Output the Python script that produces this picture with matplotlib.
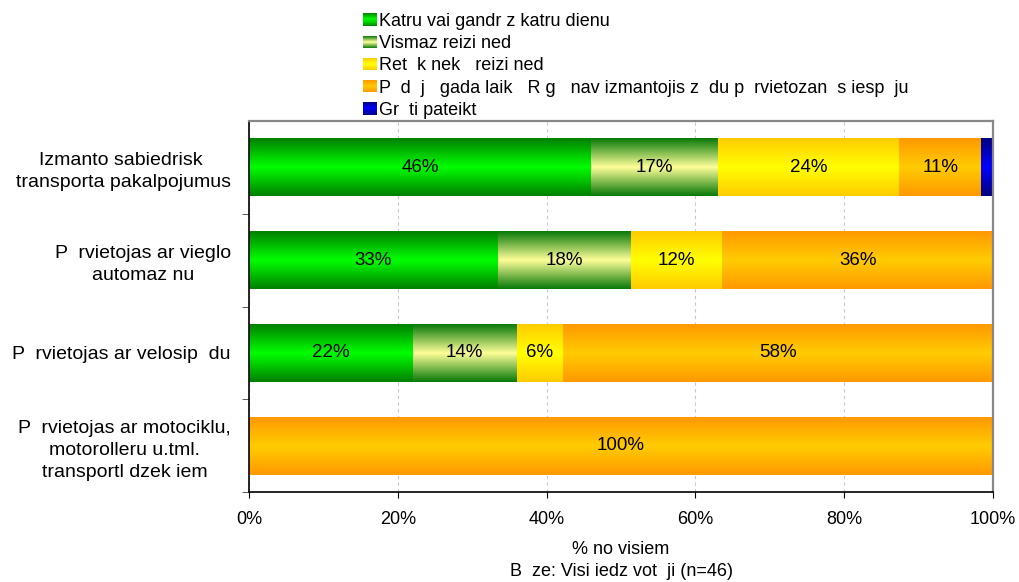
import numpy as np
import matplotlib.pyplot as plt
from matplotlib.colors import LinearSegmentedColormap
from matplotlib.legend_handler import HandlerBase
from matplotlib.patches import Rectangle

categories = [
    "Izmanto sabiedrisk \ntransporta pakalpojumus",
    "P  rvietojas ar vieglo\nautomaz nu",
    "P  rvietojas ar velosip  du",
    "P  rvietojas ar motociklu,\nmotorolleru u.tml.\ntransportl dzek iem",
]
series_names = [
    "Katru vai gandr z katru dienu",
    "Vismaz reizi ned",
    "Ret  k nek   reizi ned",
    "P  d  j   gada laik   R g   nav izmantojis z  du p  rvietozan  s iesp  ju",
    "Gr  ti pateikt",
]
daily = [46.0, 33.4, 22.0, 0.0]
weekly = [17.0, 17.9, 14.0, 0.0]
rarely = [24.4, 12.3, 6.2, 0.0]
not_used = [11.0, 36.4, 57.8, 100.0]
hard_to_say = [1.6, 0.0, 0.0, 0.0]
xtick_vals = [0, 20, 40, 60, 80, 100]
xlabel = "% no visiem\nB  ze: Visi iedz vot  ji (n=46)"

# edge colour / centre colour of each vertical gradient
grad_colors = [
    ("#008000", "#00ff00"),
    ("#0a7a0a", "#ffff99"),
    ("#ffcc00", "#ffff00"),
    ("#ff9900", "#ffcc00"),
    ("#000080", "#0000ff"),
]
cmaps = [LinearSegmentedColormap.from_list("g%d" % i, [e, c, e])
         for i, (e, c) in enumerate(grad_colors)]


class GradientHandler(HandlerBase):
    def __init__(self, cmap):
        super().__init__()
        self.cmap = cmap

    def create_artists(self, legend, orig_handle, xdescent, ydescent,
                       width, height, fontsize, trans):
        n = 12
        arts = []
        for i in range(n):
            r = Rectangle((-xdescent, -ydescent + height * i / n), width, height / n,
                          facecolor=self.cmap((i + 0.5) / n), edgecolor="none",
                          transform=trans)
            arts.append(r)
        return arts


plt.rcParams["font.family"] = ["Liberation Sans", "DejaVu Sans"]
narrow = ["Liberation Sans Narrow", "Liberation Sans", "DejaVu Sans"]

fig = plt.figure(figsize=(10.19, 5.82), dpi=100)
ax = fig.add_axes([0.2444, 0.1546, 0.7301, 0.6375])

data = [daily, weekly, rarely, not_used, hard_to_say]
bar_h = 0.625
grad = np.linspace(0, 1, 64).reshape(-1, 1)
y = np.arange(len(categories))
left = np.zeros(len(categories))
for s, vals in enumerate(data):
    for i, v in enumerate(vals):
        if v <= 0:
            continue
        ax.imshow(grad, cmap=cmaps[s], aspect="auto", interpolation="bilinear",
                  extent=(left[i], left[i] + v, y[i] + bar_h / 2, y[i] - bar_h / 2),
                  zorder=2)
        if v >= 3:
            ax.text(left[i] + v / 2, y[i], "%d%%" % round(v), ha="center", va="center",
                    fontsize=13.5, family=narrow, zorder=3)
    left = left + np.array(vals)

ax.set_xlim(0, 100)
ax.set_ylim(len(categories) - 0.5, -0.5)

ax.set_yticks(y)
ax.set_yticklabels(categories, fontsize=14)
for t in ax.get_yticklabels():
    t.set_multialignment("center")
    t.set_linespacing(1.38)
ax.set_yticks(np.arange(0.5, len(categories)), minor=True)
ax.tick_params(axis="y", which="major", length=0, pad=13)
ax.tick_params(axis="y", which="minor", length=5, direction="out", color="#404040")

ax.set_xticks(xtick_vals)
ax.set_xticklabels(["%d%%" % v for v in xtick_vals], fontsize=13, family=narrow)
ax.tick_params(axis="x", length=4, direction="out", pad=10)
ax.xaxis.grid(True, color="#c8c8c8", linestyle=(0, (3, 3)), linewidth=0.8)
ax.set_axisbelow(True)
ax.set_xlabel(xlabel, fontsize=13, family=narrow, labelpad=9, linespacing=1.4)

for side in ["top", "right"]:
    ax.spines[side].set_color("#888888")
    ax.spines[side].set_linewidth(1.6)
for side in ["left", "bottom"]:
    ax.spines[side].set_color("black")
    ax.spines[side].set_linewidth(1.2)

proxies = [Rectangle((0, 0), 1, 1) for _ in series_names]
fig.legend(proxies, series_names, loc="upper left", bbox_to_anchor=(0.356, 0.978),
           frameon=False, fontsize=13, handlelength=0.78, handleheight=0.67,
           handletextpad=0.1, labelspacing=0.29, borderpad=0, borderaxespad=0,
           handler_map={p: GradientHandler(cm) for p, cm in zip(proxies, cmaps)})

fig.savefig("out.png", dpi=100)
